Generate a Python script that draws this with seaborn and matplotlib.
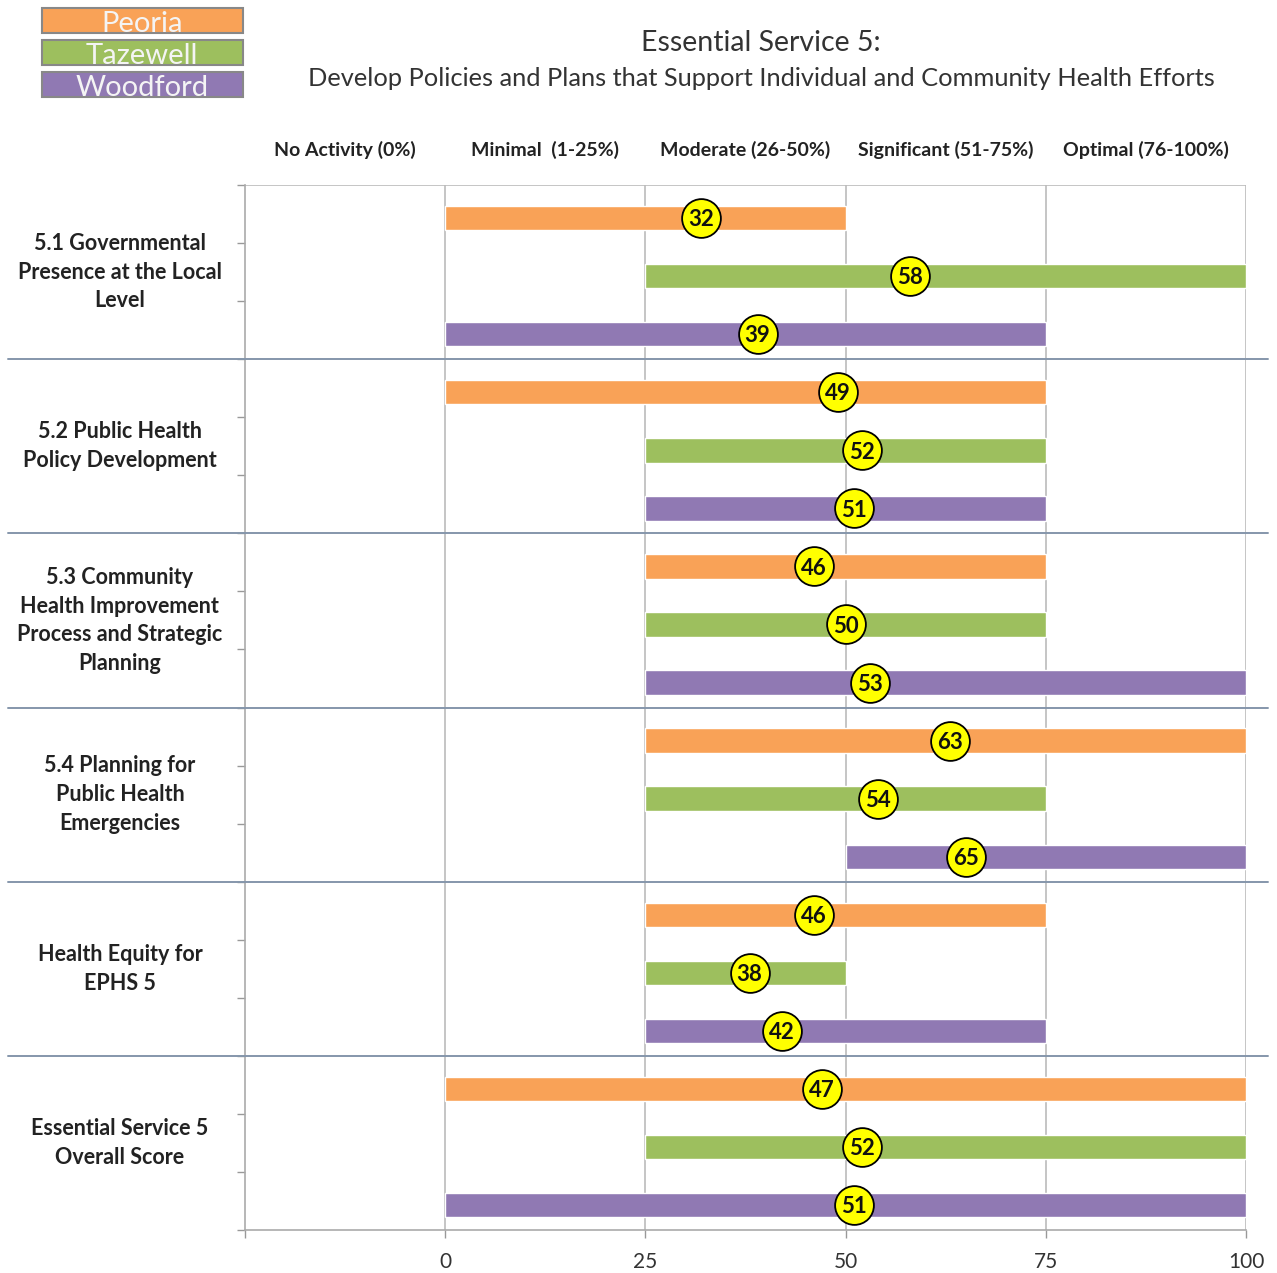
import numpy as np
import pandas as pd
import matplotlib
matplotlib.use('Agg')
import matplotlib.pyplot as plt
from matplotlib.patches import Rectangle
from matplotlib.transforms import blended_transform_factory
import seaborn as sns

# data
groups = ['5.1 Governmental\nPresence at the Local\nLevel',
          '5.2 Public Health\nPolicy Development',
          '5.3 Community\nHealth Improvement\nProcess and Strategic\nPlanning',
          '5.4 Planning for\nPublic Health\nEmergencies',
          'Health Equity for\nEPHS 5',
          'Essential Service 5\nOverall Score']
counties = ['Peoria', 'Tazewell', 'Woodford']
range_start = {'Peoria':   [0, 0, 25, 25, 25, 0],
               'Tazewell': [25, 25, 25, 25, 25, 25],
               'Woodford': [0, 25, 25, 50, 25, 0]}
range_end = {'Peoria':   [50, 75, 75, 100, 75, 100],
             'Tazewell': [100, 75, 75, 75, 50, 100],
             'Woodford': [75, 75, 100, 100, 75, 100]}
scores = {'Peoria':   [32, 49, 46, 63, 46, 47],
          'Tazewell': [58, 52, 50, 54, 38, 52],
          'Woodford': [39, 51, 53, 65, 42, 51]}
level_labels = ['No Activity (0%)', 'Minimal  (1-25%)', 'Moderate (26-50%)',
                'Significant (51-75%)', 'Optimal (76-100%)']
x_ticks = [0, 25, 50, 75, 100]

colors = {'Peoria': '#F9A257', 'Tazewell': '#9DBF5E', 'Woodford': '#9079B3'}

rows = []
for g, grp in enumerate(groups):
    for c, cty in enumerate(counties):
        rows.append({'group': g, 'county': cty, 'slot': g * 3 + c + 0.57,
                     'start': range_start[cty][g], 'end': range_end[cty][g],
                     'score': scores[cty][g]})
df = pd.DataFrame(rows)

sns.set_theme(style='white')
plt.rcParams['font.family'] = ['Lato', 'DejaVu Sans']

fig = plt.figure(figsize=(12.77, 12.73), dpi=100)
ax = fig.add_axes([245 / 1277, 1 - 1230 / 1273, 1001 / 1277, 1045 / 1273])

# range bars
ax.barh(df['slot'], df['end'] - df['start'], left=df['start'], height=0.42,
        color=df['county'].map(colors), zorder=2)

# score markers
sns.scatterplot(data=df, x='score', y='slot', ax=ax, s=780, color='#FFFF00',
                edgecolor='black', linewidth=1.3, zorder=4, legend=False)
for _, r in df.iterrows():
    ax.text(r['score'], r['slot'] + 0.03, str(r['score']), ha='center', va='center',
            fontsize=16, fontweight='bold', color='#111111', zorder=5)

ax.set_xlim(-25, 100)
ax.set_ylim(18, 0)
ax.set_xticks([-25] + x_ticks)
ax.set_xticklabels([''] + [str(v) for v in x_ticks], fontsize=15, color='#333333')
ax.set_yticks(np.arange(0, 19))
ax.set_yticklabels([])
ax.tick_params(axis='both', direction='out', length=6, width=1, color='#999999',
               bottom=True, left=True)
ax.tick_params(axis='x', pad=10)
ax.set_xlabel('')
ax.set_ylabel('')

for v in x_ticks:
    ax.axvline(v, color='#BBBBBB', lw=1.2, zorder=1)
ax.axhline(0, color='#BBBBBB', lw=1.2, zorder=1)

for s in ['top', 'right']:
    ax.spines[s].set_visible(False)
for s in ['left', 'bottom']:
    ax.spines[s].set_color('#AAAAAA')
    ax.spines[s].set_linewidth(1.2)

# group separators
for g in range(1, 6):
    ax.axhline(g * 3, xmin=-0.237, xmax=1.022, color='#8596AB', lw=1.4,
               clip_on=False, zorder=3)

# group labels
trans = blended_transform_factory(ax.transAxes, ax.transData)
for g, grp in enumerate(groups):
    ax.text(-0.125, g * 3 + 1.5, grp, transform=trans, ha='center', va='center',
            fontsize=15.5, fontweight='bold', color='#222222', linespacing=1.45)

# column headings
head_trans = blended_transform_factory(ax.transData, ax.transAxes)
for i, lab in enumerate(level_labels):
    ax.text(-12.5 + 25 * i, 1.0335, lab, transform=head_trans, ha='center',
            va='center', fontsize=14, fontweight='bold', color='#222222')

# title
fig.text(761 / 1277, 1 - 43 / 1273, 'Essential Service 5:', ha='center', va='center',
         fontsize=20.5, color='#333333')
fig.text(761 / 1277, 1 - 78 / 1273,
         'Develop Policies and Plans that Support Individual and Community Health Efforts',
         ha='center', va='center', fontsize=18.3, color='#333333')

# legend boxes
for i, cty in enumerate(counties):
    y0 = 1 - (33 + 32 * i) / 1273
    fig.patches.append(Rectangle((42 / 1277, y0), 201 / 1277, 25 / 1273,
                                 transform=fig.transFigure, facecolor=colors[cty],
                                 edgecolor='#888888', lw=1.5))
    fig.text(142 / 1277, y0 + 9 / 1273, cty, ha='center', va='center',
             fontsize=21, color='#F4F4F4')

fig.savefig('out.png', dpi=100)
